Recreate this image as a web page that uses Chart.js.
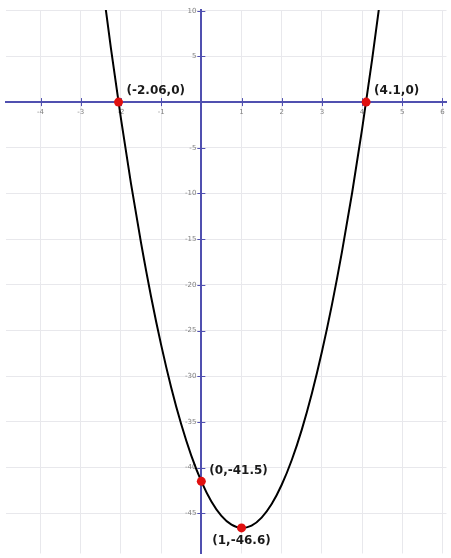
<!DOCTYPE html>
<html>
<head>
<meta charset="utf-8">
<script src="https://cdn.jsdelivr.net/npm/chart.js@4.4.1/dist/chart.umd.min.js"></script>
<style>
  html, body { margin: 0; padding: 0; background: #fff; }
  #graph { display: block; }
</style>
</head>
<body>
<canvas id="graph" width="451" height="558"></canvas>
<script>
// curve
const curveX = [-2.5, -2.25, -2, -1.75, -1.5, -1.25, -1, -0.75, -0.5, -0.25, 0, 0.25, 0.5, 0.75, 1,
    1.25, 1.5, 1.75, 2, 2.25, 2.5, 2.75, 3, 3.25, 3.5, 3.75, 4, 4.25, 4.5];
const curveY = [14.26, 5.92, -1.8, -8.92, -15.41, -21.3, -26.57, -31.22, -35.26, -38.69, -41.5, -43.7, -45.28, -46.25, -46.61,
    -46.35, -45.47, -43.99, -41.88, -39.17, -35.84, -31.89, -27.33, -22.16, -16.37, -9.97, -2.96, 4.67, 12.92];

// marked points
const keyX = [-2.06, 4.1, 0, 1];
const keyY = [0, 0, -41.5, -46.6];
const keyLabels = ['(-2.06,0)', '(4.1,0)', '(0,-41.5)', '(1,-46.6)'];
const keyPlace = ['above', 'above', 'right', 'below'];

const axisBlue = '#5050b0';
const tickGray = '#808080';

// tick marks crossing the axes + y tick labels left of the axis
const crossTicks = {
    id: 'crossTicks',
    beforeDatasetsDraw(chart) {
        const { ctx, scales } = chart;
        const y0 = scales.y.getPixelForValue(0);
        const x0 = scales.x.getPixelForValue(0);
        ctx.save();
        ctx.strokeStyle = axisBlue;
        ctx.lineWidth = 1;
        ctx.beginPath();
        scales.x.ticks.forEach(t => {
            if (t.value === 0) return;
            const px = Math.round(scales.x.getPixelForValue(t.value)) + 0.5;
            ctx.moveTo(px, y0 - 4);
            ctx.lineTo(px, y0 + 4);
        });
        scales.y.ticks.forEach(t => {
            if (t.value === 0) return;
            const py = Math.round(scales.y.getPixelForValue(t.value)) + 0.5;
            ctx.moveTo(x0 - 4, py);
            ctx.lineTo(x0 + 4, py);
        });
        ctx.stroke();

        ctx.font = '7px "DejaVu Sans", Verdana, sans-serif';
        ctx.fillStyle = tickGray;
        ctx.textAlign = 'right';
        ctx.textBaseline = 'middle';
        scales.y.ticks.forEach(t => {
            if (t.value === 0) return;
            ctx.fillText(t.label, x0 - 5, scales.y.getPixelForValue(t.value));
        });
        ctx.restore();
    }
};

const pointLabels = {
    id: 'pointLabels',
    afterDatasetsDraw(chart) {
        const { ctx, scales } = chart;
        ctx.save();
        ctx.font = 'bold 12px "DejaVu Sans", Verdana, sans-serif';
        ctx.fillStyle = '#1a1a1a';
        ctx.textBaseline = 'middle';
        keyLabels.forEach((txt, i) => {
            const px = scales.x.getPixelForValue(keyX[i]);
            const py = scales.y.getPixelForValue(keyY[i]);
            if (keyPlace[i] === 'below') {
                ctx.textAlign = 'center';
                ctx.fillText(txt, px, py + 13);
            } else if (keyPlace[i] === 'right') {
                ctx.textAlign = 'left';
                ctx.fillText(txt, px + 8, py - 10);
            } else {
                ctx.textAlign = 'left';
                ctx.fillText(txt, px + 8, py - 11);
            }
        });
        ctx.restore();
    }
};

const tickFont = { family: '"DejaVu Sans", Verdana, sans-serif', size: 7 };

new Chart(document.getElementById('graph'), {
    type: 'scatter',
    data: {
        datasets: [
            {
                data: keyX.map((x, i) => ({ x: x, y: keyY[i] })),
                pointRadius: 4.5,
                pointBackgroundColor: '#e01010',
                pointBorderWidth: 0,
                showLine: false
            },
            {
                data: curveX.map((x, i) => ({ x: x, y: curveY[i] })),
                showLine: true,
                borderColor: '#000',
                borderWidth: 2,
                pointRadius: 0,
                cubicInterpolationMode: 'monotone'
            }
        ]
    },
    options: {
        responsive: false,
        animation: false,
        layout: { padding: { left: 6, top: 10, right: 0, bottom: 0 } },
        plugins: {
            legend: { display: false },
            tooltip: { enabled: false }
        },
        scales: {
            x: {
                type: 'linear',
                position: { y: 0 },
                min: -4.86,
                max: 6.1,
                grid: { color: '#e8e8ec', lineWidth: 1, drawTicks: true, tickColor: 'rgba(0,0,0,0)', tickLength: 4 },
                border: { color: axisBlue, width: 2 },
                ticks: {
                    stepSize: 1,
                    includeBounds: false,
                    font: tickFont,
                    color: tickGray,
                    padding: 2,
                    maxRotation: 0,
                    callback: v => (v === 0 ? '' : v)
                }
            },
            y: {
                type: 'linear',
                position: { x: 0 },
                min: -49.4,
                max: 10.08,
                grid: { color: '#e8e8ec', lineWidth: 1, drawTicks: false },
                border: { color: axisBlue, width: 2 },
                ticks: {
                    stepSize: 5,
                    includeBounds: false,
                    display: false
                }
            }
        }
    },
    plugins: [crossTicks, pointLabels]
});
</script>
</body>
</html>
